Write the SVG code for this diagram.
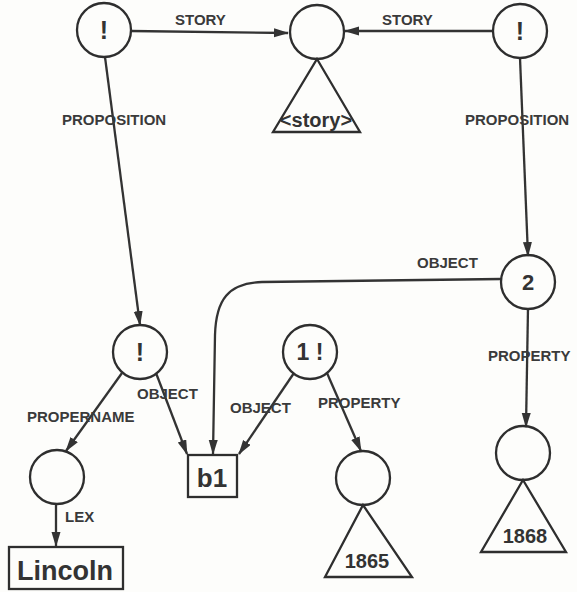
<svg xmlns="http://www.w3.org/2000/svg" width="577" height="592" viewBox="0 0 577 592">
<style>
.bg{fill:#fdfdfb}
.n{fill:none;stroke:#2e2e2e;stroke-width:2.3}
.e{fill:none;stroke:#333;stroke-width:2.3;marker-end:url(#ah)}
.l{font-family:"Liberation Sans",Arial,sans-serif;font-weight:bold;font-size:15px;fill:#3a3a3a}
.t{font-family:"Liberation Sans",Arial,sans-serif;font-weight:bold;fill:#333;text-anchor:middle}
</style>
<defs>
<marker id="ah" markerUnits="userSpaceOnUse" markerWidth="15" markerHeight="10" refX="14" refY="4.5" orient="auto">
<path d="M0,0 L15,4.5 L0,9 z" fill="#333"/>
</marker>
</defs>
<rect class="bg" x="0" y="0" width="577" height="592"/>
<g id="connectors">
<path class="e" d="M131,31 L288,33"/>
<path class="e" d="M492,31 L345,31"/>
<path class="e" d="M105,57 L140,325"/>
<path class="e" d="M520,58 L528,256"/>
<path class="e" d="M501,279 L262,282 C228,283 216,300 215,335 L213,454"/>
<path class="e" d="M528,308 L526,427"/>
<path class="e" d="M122,373 L66,451"/>
<path class="e" d="M156,373 L187,454"/>
<path class="e" d="M294,373 L239,454"/>
<path class="e" d="M327,373 L361,451"/>
<path class="e" d="M56,504 L56,546"/>
<text class="l" x="175" y="25">STORY</text>
<text class="l" x="382" y="25">STORY</text>
<text class="l" x="62" y="125">PROPOSITION</text>
<text class="l" x="465" y="125">PROPOSITION</text>
<text class="l" x="417" y="268">OBJECT</text>
<text class="l" x="488" y="361">PROPERTY</text>
<text class="l" x="137" y="399">OBJECT</text>
<text class="l" x="27" y="422">PROPERNAME</text>
<text class="l" x="230" y="413">OBJECT</text>
<text class="l" x="318" y="408">PROPERTY</text>
<text class="l" x="65" y="522">LEX</text>
</g>
<g id="n-prop1">
<circle class="n" cx="104" cy="30" r="27"/>
<text class="t" x="104" y="39" font-size="25">!</text>
</g>
<g id="n-story">
<circle class="n" cx="317" cy="32" r="27"/>
<path class="n" d="M317,59 L360,132 L273,132 Z"/>
<text class="t" x="316" y="127" font-size="20">&lt;story&gt;</text>
</g>
<g id="n-prop2">
<circle class="n" cx="520" cy="31" r="27"/>
<text class="t" x="520" y="40" font-size="25">!</text>
</g>
<g id="n-2">
<circle class="n" cx="528" cy="282" r="27"/>
<text class="t" x="528" y="290" font-size="22">2</text>
</g>
<g id="n-1868">
<circle class="n" cx="523" cy="453" r="27"/>
<path class="n" d="M523,480 L566,552 L481,552 Z"/>
<text class="t" x="525" y="543" font-size="20">1868</text>
</g>
<g id="n-prop3">
<circle class="n" cx="140" cy="352" r="27"/>
<text class="t" x="140" y="361" font-size="25">!</text>
</g>
<g id="n-prop4">
<circle class="n" cx="310" cy="352" r="27"/>
<text class="t" x="310" y="360" font-size="23">1 !</text>
</g>
<g id="n-lex">
<circle class="n" cx="57" cy="477" r="27"/>
</g>
<g id="n-b1">
<rect class="n" x="188" y="455" width="49" height="42"/>
<text class="t" x="212" y="487" font-size="26">b1</text>
</g>
<g id="n-1865">
<circle class="n" cx="363" cy="478" r="27"/>
<path class="n" d="M363,505 L412,577 L325,577 Z"/>
<text class="t" x="367" y="568" font-size="20">1865</text>
</g>
<g id="n-lincoln">
<rect class="n" x="9" y="547" width="114" height="42"/>
<text class="t" x="65" y="580" font-size="27">Lincoln</text>
</g>
</svg>
